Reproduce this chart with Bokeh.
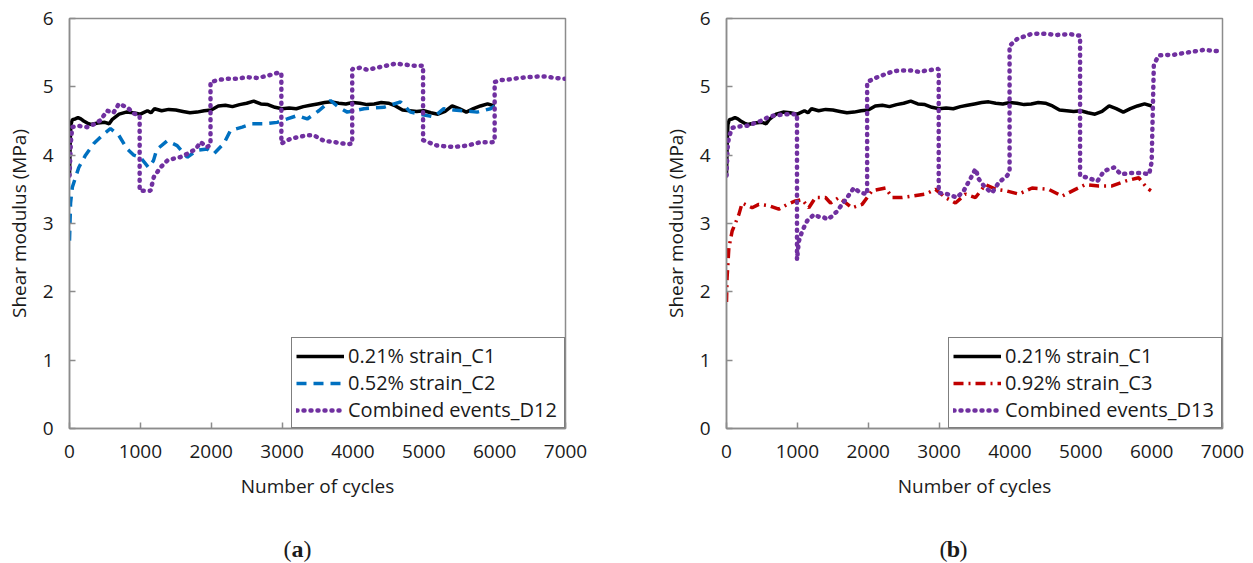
from bokeh.plotting import figure
from bokeh.layouts import row, column
from bokeh.models import Range1d, FixedTicker
from bokeh.core.properties import value
from bokeh.embed import file_html
from bokeh.resources import INLINE

# ---------------- data ----------------
c1_x = [0, 10, 20, 40, 80, 120, 160, 200, 250, 300, 400, 500, 560, 600, 700, 800, 900, 1000,
        1100, 1150, 1200, 1300, 1400, 1500, 1600, 1700, 1800, 1900, 2000, 2100, 2200, 2300, 2400,
        2500, 2600, 2700, 2800, 2900, 3000, 3100, 3200, 3300, 3400, 3500, 3600, 3700, 3800, 3900,
        4000, 4100, 4200, 4300, 4400, 4500, 4600, 4700, 4800, 4900, 5000, 5100, 5200, 5300, 5400,
        5500, 5600, 5700, 5800, 5900, 6000]
c1_y = [3.7, 4.2, 4.45, 4.52, 4.53, 4.55, 4.53, 4.5, 4.47, 4.45, 4.47, 4.48, 4.46, 4.52, 4.6,
        4.63, 4.62, 4.6, 4.65, 4.62, 4.68, 4.65, 4.67, 4.66, 4.64, 4.62, 4.63, 4.65, 4.66, 4.72,
        4.73, 4.71, 4.74, 4.76, 4.79, 4.75, 4.74, 4.7, 4.68, 4.69, 4.68, 4.71, 4.73, 4.75, 4.77,
        4.78, 4.76, 4.75, 4.77, 4.76, 4.74, 4.75, 4.77, 4.76, 4.72, 4.66, 4.65, 4.64, 4.65, 4.62,
        4.60, 4.64, 4.72, 4.68, 4.63, 4.68, 4.72, 4.75, 4.72]

c2_x = [0, 15, 40, 131, 226, 343, 484, 578, 696, 814, 908, 1000, 1115, 1185, 1230, 1378, 1519,
        1661, 1802, 1943, 2037, 2178, 2272, 2437, 2578, 2742, 2931, 3073, 3214, 3355, 3519, 3684,
        3800, 3920, 4154, 4436, 4671, 4812, 4950, 5141, 5282, 5424, 5565, 5753, 5941, 6000]
c2_y = [2.75, 3.3, 3.53, 3.82, 4.0, 4.17, 4.31, 4.39, 4.29, 4.09, 4.0, 3.97, 3.82, 3.92, 4.08,
        4.21, 4.14, 3.97, 4.07, 4.09, 4.02, 4.17, 4.36, 4.41, 4.46, 4.46, 4.48, 4.53, 4.58, 4.53,
        4.65, 4.8, 4.7, 4.63, 4.68, 4.70, 4.78, 4.63, 4.6, 4.56, 4.68, 4.66, 4.65, 4.63, 4.68, 4.72]

d12_x = [0, 20, 38, 120, 249, 340, 437, 531, 620, 696, 814, 908, 990, 990, 1143, 1190, 1284,
         1380, 1472, 1560, 1661, 1750, 1802, 1849, 1943, 1990, 1990, 2100, 2225, 2350, 2507, 2650,
         2790, 2954, 2990, 2990, 3120, 3250, 3355, 3449, 3590, 3750, 3920, 3990, 3990, 4100, 4201,
         4389, 4601, 4859, 4990, 4990, 5188, 5300, 5424, 5612, 5800, 5965, 6000, 6000, 6100, 6224,
         6350, 6459, 6600, 6741, 6850, 6976, 7000]
d12_y = [3.7, 4.2, 4.41, 4.43, 4.41, 4.45, 4.51, 4.65, 4.62, 4.75, 4.70, 4.61, 4.58, 3.48, 3.48,
         3.68, 3.82, 3.92, 3.95, 3.97, 4.02, 4.07, 4.12, 4.19, 4.12, 4.15, 5.07, 5.1, 5.12, 5.12,
         5.14, 5.13, 5.16, 5.21, 5.2, 4.17, 4.24, 4.27, 4.29, 4.29, 4.21, 4.19, 4.16, 4.17, 5.26,
         5.28, 5.25, 5.29, 5.34, 5.31, 5.31, 4.22, 4.14, 4.13, 4.12, 4.14, 4.19, 4.19, 4.2, 5.07,
         5.10, 5.11, 5.13, 5.14, 5.15, 5.15, 5.13, 5.12, 5.12]

c3_x = [0, 8, 33, 80, 174, 221, 362, 456, 597, 738, 857, 974, 1068, 1162, 1256, 1397, 1468, 1585,
        1773, 1914, 2055, 2244, 2338, 2479, 2620, 2808, 2949, 3090, 3231, 3373, 3514, 3655, 3800,
        3937, 4125, 4313, 4548, 4736, 4924, 5065, 5253, 5441, 5629, 5817, 5935, 5990]
c3_y = [1.85, 2.2, 2.64, 2.89, 3.13, 3.30, 3.23, 3.28, 3.26, 3.21, 3.28, 3.33, 3.35, 3.23, 3.38,
        3.38, 3.30, 3.38, 3.23, 3.28, 3.48, 3.52, 3.38, 3.38, 3.40, 3.43, 3.50, 3.38, 3.30, 3.43,
        3.38, 3.57, 3.50, 3.48, 3.43, 3.52, 3.50, 3.40, 3.50, 3.57, 3.55, 3.55, 3.62, 3.67, 3.52, 3.48]

d13_x = [0, 15, 33, 80, 180, 292, 400, 480, 580, 668, 760, 857, 974, 995, 995, 1021, 1068, 1139,
         1233, 1300, 1374, 1421, 1480, 1562, 1630, 1703, 1797, 1891, 1985, 1985, 2080, 2174, 2362,
         2480, 2597, 2720, 2832, 2973, 2995, 2995, 3114, 3255, 3349, 3396, 3440, 3514, 3561, 3655,
         3749, 3843, 3961, 3995, 3995, 4102, 4290, 4431, 4666, 4854, 4971, 4990, 4990, 5094, 5235,
         5329, 5470, 5565, 5706, 5847, 5965, 6000, 6031, 6102, 6314, 6549, 6737, 6949, 7000]
d13_y = [3.7, 4.1, 4.26, 4.40, 4.42, 4.43, 4.47, 4.50, 4.55, 4.58, 4.59, 4.60, 4.60, 4.60, 2.47,
         2.74, 2.89, 3.04, 3.13, 3.1, 3.09, 3.06, 3.1, 3.18, 3.28, 3.38, 3.52, 3.45, 3.43, 5.07,
         5.12, 5.16, 5.23, 5.24, 5.24, 5.22, 5.24, 5.26, 5.26, 3.45, 3.43, 3.38, 3.48, 3.57, 3.65,
         3.80, 3.65, 3.52, 3.45, 3.60, 3.70, 3.75, 5.6, 5.70, 5.77, 5.78, 5.76, 5.77, 5.75, 5.75,
         3.70, 3.67, 3.62, 3.77, 3.82, 3.72, 3.74, 3.74, 3.72, 3.9, 5.33, 5.46, 5.47, 5.51, 5.54,
         5.52, 5.5]

x_ticks = [0, 1000, 2000, 3000, 4000, 5000, 6000, 7000]
y_ticks = [0, 1, 2, 3, 4, 5, 6]
captions = ["a", "b"]

FONT = "Open Sans"
SERIF = "Liberation Serif"
AXIS_GREY = "#8c8c8c"
TXT = "#1a1a1a"
MAIN_H = 523
CAP_H = 40


def make_fig(width, left, right):
    p = figure(width=width, height=MAIN_H, output_backend="svg", toolbar_location=None,
               x_range=Range1d(0, 7000), y_range=Range1d(0, 6),
               min_border_left=left, min_border_right=right,
               min_border_top=18, min_border_bottom=MAIN_H - 428)
    p.grid.visible = False
    p.outline_line_color = AXIS_GREY
    p.outline_line_width = 1.5
    p.background_fill_color = "white"
    p.border_fill_color = "white"
    for ax in (p.xaxis[0], p.yaxis[0]):
        ax.axis_line_color = AXIS_GREY
        ax.axis_line_width = 1.5
        ax.major_tick_line_color = AXIS_GREY
        ax.major_tick_line_width = 1.5
        ax.major_tick_in = 6
        ax.major_tick_out = 0
        ax.minor_tick_line_color = None
        ax.major_label_text_font = FONT
        ax.major_label_text_font_size = "19px"
        ax.major_label_text_color = TXT
        ax.axis_label_text_font = FONT
        ax.axis_label_text_font_size = "19px"
        ax.axis_label_text_font_style = "normal"
        ax.axis_label_text_color = TXT
    p.xaxis.ticker = FixedTicker(ticks=x_ticks)
    p.yaxis.ticker = FixedTicker(ticks=y_ticks)
    p.xaxis.axis_label = "Number of cycles"
    p.yaxis.axis_label = "Shear modulus (MPa)"
    p.xaxis.major_label_standoff = 16
    p.xaxis.axis_label_standoff = 12
    p.yaxis.major_label_standoff = 16
    p.yaxis.axis_label_standoff = 8
    return p


def make_caption(width, letter, cx):
    c = figure(width=width, height=CAP_H, output_backend="svg", toolbar_location=None,
               x_range=Range1d(0, width), y_range=Range1d(0, CAP_H),
               x_axis_type=None, y_axis_type=None, min_border=0)
    c.grid.visible = False
    c.outline_line_color = None
    c.background_fill_color = "white"
    c.border_fill_color = "white"
    common = dict(text_font=value(SERIF), text_font_size="24px", text_color=TXT,
                  text_baseline="middle")
    half = 6
    c.text(x=[cx], y=[15], text=[letter], text_align="center", text_font_style="bold", **common)
    c.text(x=[cx - half], y=[15], text=["("], text_align="right", **common)
    c.text(x=[cx + half], y=[15], text=[")"], text_align="left", **common)
    return c


def style_legend(p):
    lg = p.legend[0]
    lg.location = "bottom_right"
    lg.margin = 0
    lg.padding = 4
    lg.spacing = 0
    lg.border_line_color = "black"
    lg.border_line_width = 1.5
    lg.background_fill_color = "white"
    lg.background_fill_alpha = 1
    lg.label_text_font = FONT
    lg.label_text_font_size = "20px"
    lg.label_text_color = TXT
    lg.glyph_width = 48
    lg.glyph_height = 26
    lg.label_height = 26
    lg.label_standoff = 4
    lg.label_width = 212


p1 = make_fig(626, 69, 61)
p1.line(c1_x, c1_y, line_color="black", line_width=3.5, legend_label="0.21% strain_C1")
p1.line(c2_x, c2_y, line_color="#0070C0", line_width=3.5, line_dash="10 7",
        legend_label="0.52% strain_C2")
p1.line(d12_x, d12_y, line_color="#7030A0", line_width=4.5, line_dash="1 6", line_cap="round",
        legend_label="Combined events_D12")
style_legend(p1)

p2 = make_fig(627, 100, 31)
p2.line(c1_x, c1_y, line_color="black", line_width=3.5, legend_label="0.21% strain_C1")
p2.line(c3_x, c3_y, line_color="#C00000", line_width=3.5, line_dash="10 5 2 5",
        legend_label="0.92% strain_C3")
p2.line(d13_x, d13_y, line_color="#7030A0", line_width=4.5, line_dash="1 6", line_cap="round",
        legend_label="Combined events_D13")
style_legend(p2)

cap1 = make_caption(626, captions[0], 297)
cap2 = make_caption(627, captions[1], 327)

layout = column(row(p1, p2), row(cap1, cap2))
open("out.html", "w").write(file_html(layout, INLINE))
